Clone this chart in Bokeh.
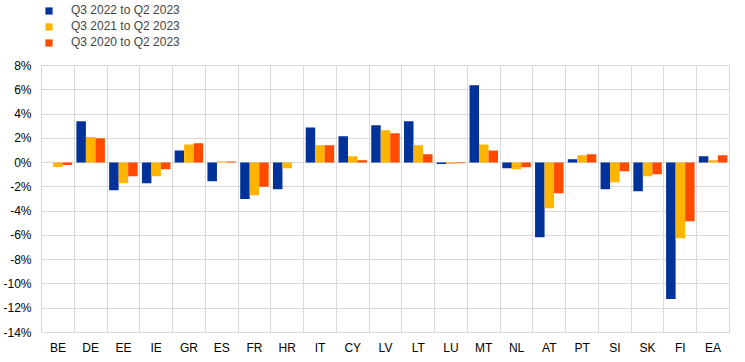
from bokeh.plotting import figure
from bokeh.layouts import column
from bokeh.models import FixedTicker, PrintfTickFormatter, Legend, LegendItem, Range1d
from bokeh.embed import file_html
from bokeh.resources import INLINE

countries = ["BE", "DE", "EE", "IE", "GR", "ES", "FR", "HR", "IT", "CY", "LV",
             "LT", "LU", "MT", "NL", "AT", "PT", "SI", "SK", "FI", "EA"]
series_names = ["Q3 2022 to Q2 2023", "Q3 2021 to Q2 2023", "Q3 2020 to Q2 2023"]
q3_2022 = [0.0, 3.4, -2.28, -1.7, 1.0, -1.54, -3.0, -2.2, 2.9, 2.17, 3.07,
           3.4, -0.12, 6.37, -0.47, -6.15, 0.27, -2.2, -2.36, -11.24, 0.52]
q3_2021 = [-0.36, 2.1, -1.7, -1.13, 1.5, 0.1, -2.7, -0.47, 1.43, 0.52, 2.66,
           1.43, -0.12, 1.5, -0.55, -3.77, 0.6, -1.62, -1.13, -6.24, 0.19]
q3_2020 = [-0.2, 2.0, -1.13, -0.55, 1.6, 0.1, -2.0, 0.0, 1.43, 0.2, 2.41,
           0.69, -0.05, 1.0, -0.39, -2.53, 0.69, -0.72, -0.96, -4.84, 0.6]
y_ticks = [-14, -12, -10, -8, -6, -4, -2, 0, 2, 4, 6, 8]

colors = ["#003299", "#FFB400", "#FF4B00"]
offsets = [-0.29, 0.0, 0.29]
bar_width = 0.29
FONT = "Liberation Sans"
GRID = "#d9d9d9"

n = len(countries)
series = [q3_2022, q3_2021, q3_2020]

p = figure(frame_width=688, frame_height=267, output_backend="svg", toolbar_location=None,
           x_range=Range1d(0, n), y_range=Range1d(-14, 8),
           min_border_left=35, min_border_right=14, min_border_top=7,
           min_border_bottom=22)
p.outline_line_color = GRID

for vals, col, off in zip(series, colors, offsets):
    xs = [i + 0.5 + off for i in range(n)]
    p.vbar(x=xs, top=vals, bottom=0, width=bar_width, fill_color=col,
           line_color=None)

centers = [i + 0.5 for i in range(n)]
p.xaxis.ticker = FixedTicker(ticks=centers)
p.xaxis.major_label_overrides = {c: name for c, name in zip(centers, countries)}
p.xgrid.ticker = FixedTicker(ticks=list(range(n + 1)))
p.yaxis.ticker = FixedTicker(ticks=y_ticks)
p.ygrid.ticker = FixedTicker(ticks=y_ticks)
p.yaxis.formatter = PrintfTickFormatter(format="%d%%")

for ax in (p.xaxis[0], p.yaxis[0]):
    ax.axis_line_color = None
    ax.major_tick_line_color = None
    ax.minor_tick_line_color = None
    ax.major_tick_out = 0
    ax.major_tick_in = 0
    ax.minor_tick_out = 0
    ax.minor_tick_in = 0
    ax.major_label_text_font = FONT
    ax.major_label_text_font_size = "12px"
    ax.major_label_text_color = "#000000"
p.yaxis.major_label_standoff = 10
p.xaxis.major_label_standoff = 8

for g in (p.xgrid[0], p.ygrid[0]):
    g.grid_line_color = GRID
    g.grid_line_width = 1

# legend strip above the chart (its bars lie outside its visible y range)
leg_fig = figure(width=737, height=58, output_backend="svg", toolbar_location=None,
                 x_range=Range1d(0, n), y_range=Range1d(50, 51), min_border=0,
                 x_axis_location=None, y_axis_location=None)
leg_fig.grid.visible = False
leg_fig.outline_line_color = None
leg_renderers = []
for vals, col, off in zip(series, colors, offsets):
    xs = [i + 0.5 + off for i in range(n)]
    leg_renderers.append(leg_fig.vbar(x=xs, top=vals, bottom=0, width=bar_width,
                                      fill_color=col, line_color=None))
legend = Legend(items=[LegendItem(label=nm, renderers=[r]) for nm, r in zip(series_names, leg_renderers)],
                location=(3, 9), orientation="vertical",
                glyph_width=9, glyph_height=9, label_standoff=18, spacing=2,
                padding=0, margin=0, border_line_color=None,
                background_fill_alpha=0, label_text_font=FONT,
                label_text_font_size="12px", label_height=12)
leg_fig.add_layout(legend, "center")

layout = column(leg_fig, p, spacing=0)
open("out.html", "w").write(file_html(layout, INLINE))
